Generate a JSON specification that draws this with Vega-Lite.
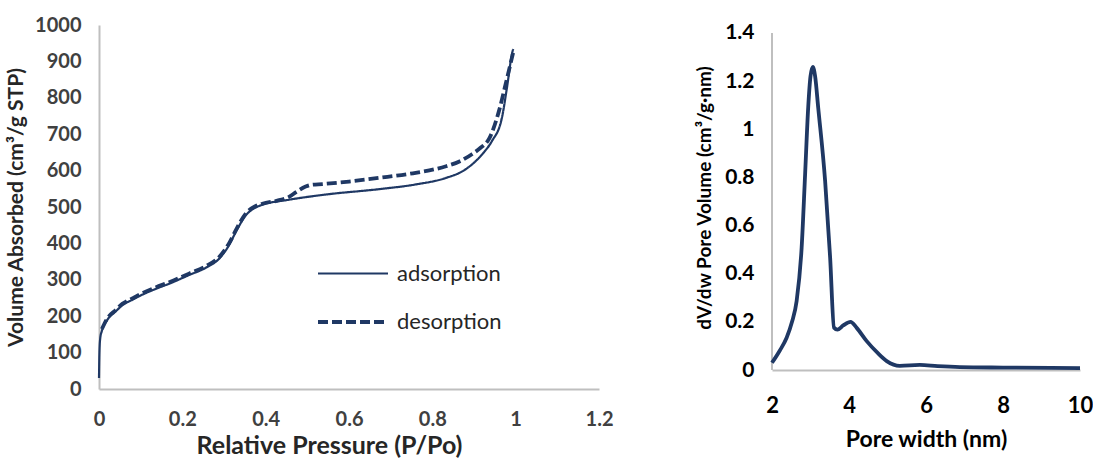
{
  "$schema": "https://vega.github.io/schema/vega-lite/v6.json",
  "background": "white",
  "padding": {"left": 5, "top": 15, "right": 0, "bottom": 0},
  "spacing": 82,
  "config": {
    "font": "Lato",
    "view": {"stroke": null},
    "axis": {
      "grid": false, "ticks": false, "domainColor": "#bfbfbf", "domainWidth": 2, "domain": true,
      "labelFont": "Lato", "labelFontWeight": "bold", "labelColor": "#404040", "labelFontSize": 20,
      "labelFlush": false, "labelOverlap": false,
      "titleFont": "Lato", "titleFontWeight": "bold", "titleColor": "#262626"
    }
  },
  "datasets": {
    "iso": [
      {"p": 0.0, "v": 30, "s": "adsorption"},
      {"p": 0.001, "v": 100, "s": "adsorption"},
      {"p": 0.003, "v": 140, "s": "adsorption"},
      {"p": 0.007, "v": 160, "s": "adsorption"},
      {"p": 0.02, "v": 190, "s": "adsorption"},
      {"p": 0.04, "v": 213, "s": "adsorption"},
      {"p": 0.056, "v": 230, "s": "adsorption"},
      {"p": 0.08, "v": 245, "s": "adsorption"},
      {"p": 0.1, "v": 257, "s": "adsorption"},
      {"p": 0.136, "v": 275, "s": "adsorption"},
      {"p": 0.17, "v": 290, "s": "adsorption"},
      {"p": 0.216, "v": 313, "s": "adsorption"},
      {"p": 0.256, "v": 333, "s": "adsorption"},
      {"p": 0.29, "v": 360, "s": "adsorption"},
      {"p": 0.312, "v": 395, "s": "adsorption"},
      {"p": 0.33, "v": 435, "s": "adsorption"},
      {"p": 0.353, "v": 478, "s": "adsorption"},
      {"p": 0.375, "v": 498, "s": "adsorption"},
      {"p": 0.392, "v": 506, "s": "adsorption"},
      {"p": 0.456, "v": 520, "s": "adsorption"},
      {"p": 0.55, "v": 535, "s": "adsorption"},
      {"p": 0.672, "v": 549, "s": "adsorption"},
      {"p": 0.76, "v": 562, "s": "adsorption"},
      {"p": 0.833, "v": 580, "s": "adsorption"},
      {"p": 0.875, "v": 600, "s": "adsorption"},
      {"p": 0.904, "v": 626, "s": "adsorption"},
      {"p": 0.925, "v": 652, "s": "adsorption"},
      {"p": 0.943, "v": 681, "s": "adsorption"},
      {"p": 0.967, "v": 745, "s": "adsorption"},
      {"p": 0.979, "v": 827, "s": "adsorption"},
      {"p": 0.991, "v": 920, "s": "adsorption"},
      {"p": 0.994, "v": 934, "s": "adsorption"},
      {"p": 0.996, "v": 934, "s": "desorption"},
      {"p": 0.976, "v": 838, "s": "desorption"},
      {"p": 0.96, "v": 764, "s": "desorption"},
      {"p": 0.936, "v": 687, "s": "desorption"},
      {"p": 0.915, "v": 662, "s": "desorption"},
      {"p": 0.895, "v": 645, "s": "desorption"},
      {"p": 0.865, "v": 625, "s": "desorption"},
      {"p": 0.833, "v": 612, "s": "desorption"},
      {"p": 0.76, "v": 594, "s": "desorption"},
      {"p": 0.672, "v": 580, "s": "desorption"},
      {"p": 0.6, "v": 570, "s": "desorption"},
      {"p": 0.536, "v": 563, "s": "desorption"},
      {"p": 0.51, "v": 561, "s": "desorption"},
      {"p": 0.496, "v": 556, "s": "desorption"},
      {"p": 0.472, "v": 540, "s": "desorption"},
      {"p": 0.456, "v": 528, "s": "desorption"},
      {"p": 0.43, "v": 518, "s": "desorption"},
      {"p": 0.392, "v": 509, "s": "desorption"},
      {"p": 0.375, "v": 502, "s": "desorption"},
      {"p": 0.353, "v": 483, "s": "desorption"},
      {"p": 0.33, "v": 440, "s": "desorption"},
      {"p": 0.312, "v": 400, "s": "desorption"},
      {"p": 0.29, "v": 365, "s": "desorption"},
      {"p": 0.256, "v": 337, "s": "desorption"},
      {"p": 0.216, "v": 317, "s": "desorption"},
      {"p": 0.17, "v": 294, "s": "desorption"},
      {"p": 0.136, "v": 279, "s": "desorption"},
      {"p": 0.1, "v": 261, "s": "desorption"},
      {"p": 0.08, "v": 249, "s": "desorption"},
      {"p": 0.056, "v": 234, "s": "desorption"},
      {"p": 0.04, "v": 217, "s": "desorption"},
      {"p": 0.02, "v": 194, "s": "desorption"},
      {"p": 0.007, "v": 165, "s": "desorption"}
    ],
    "psd": [
      {"w": 2.0, "v": 0.03},
      {"w": 2.2, "v": 0.08},
      {"w": 2.38, "v": 0.134},
      {"w": 2.52, "v": 0.2},
      {"w": 2.64, "v": 0.287},
      {"w": 2.77, "v": 0.508},
      {"w": 2.86, "v": 0.813},
      {"w": 2.94, "v": 1.09},
      {"w": 3.0, "v": 1.22},
      {"w": 3.06, "v": 1.259},
      {"w": 3.12, "v": 1.22},
      {"w": 3.2, "v": 1.09},
      {"w": 3.38, "v": 0.785},
      {"w": 3.51, "v": 0.467},
      {"w": 3.61, "v": 0.176},
      {"w": 3.7, "v": 0.168},
      {"w": 3.85, "v": 0.185},
      {"w": 4.04, "v": 0.2},
      {"w": 4.2, "v": 0.175},
      {"w": 4.46, "v": 0.12},
      {"w": 4.75, "v": 0.07},
      {"w": 4.98, "v": 0.037},
      {"w": 5.32, "v": 0.017},
      {"w": 5.84, "v": 0.021},
      {"w": 6.3, "v": 0.016},
      {"w": 6.88, "v": 0.012},
      {"w": 8.0, "v": 0.01},
      {"w": 10.0, "v": 0.008}
    ]
  },
  "hconcat": [
    {
      "width": 500,
      "height": 364,
      "data": {"name": "iso"},
      "mark": {"type": "line", "color": "#1f3864", "interpolate": "monotone"},
      "encoding": {
        "x": {"field": "p", "type": "quantitative", "scale": {"domain": [0, 1.2]},
          "axis": {"values": [0, 0.2, 0.4, 0.6, 0.8, 1, 1.2], "format": "~g", "title": "Relative Pressure (P/Po)", "titleFontSize": 25, "titleX": 230, "titleAlign": "center", "labelPadding": 20, "titlePadding": 4}},
        "y": {"field": "v", "type": "quantitative", "scale": {"domain": [0, 1000]},
          "axis": {"values": [0, 100, 200, 300, 400, 500, 600, 700, 800, 900, 1000], "format": "d", "title": "Volume Absorbed (cm³/g STP)", "titleFontSize": 21, "labelPadding": 18, "titlePadding": 8}},
        "order": {"field": "p", "type": "quantitative"},
        "strokeDash": {"field": "s", "type": "nominal",
          "scale": {"domain": ["adsorption", "desorption"], "range": [[1, 0], [10, 4]]},
          "legend": {"title": null, "orient": "none", "legendX": 217, "legendY": 212, "symbolType": "stroke", "symbolSize": 4900, "symbolStrokeColor": "#1f3864", "labelFontSize": 22, "labelColor": "#262626", "labelFont": "Lato", "labelOffset": 7, "rowPadding": -22}},
        "strokeWidth": {"field": "s", "type": "nominal",
          "scale": {"domain": ["adsorption", "desorption"], "range": [2.2, 3.8]}, "legend": null}
      }
    },
    {
      "width": 308,
      "height": 345,
      "data": {"name": "psd"},
      "layer": [
        {
          "mark": {"type": "rule", "color": "#bfbfbf", "strokeWidth": 2},
          "encoding": {
            "x": {"datum": 2, "type": "quantitative", "scale": {"domain": [2, 10], "zero": false}},
            "y": {"datum": 0, "type": "quantitative", "scale": {"domain": [0, 1.4332], "nice": false}},
            "y2": {"datum": 1.4}
          }
        },
        {
          "mark": {"type": "line", "color": "#1f3864", "strokeWidth": 3.8, "interpolate": "monotone"},
          "encoding": {
            "x": {"field": "w", "type": "quantitative", "scale": {"domain": [2, 10], "zero": false},
              "axis": {"values": [2, 4, 6, 8, 10], "title": "Pore width (nm)", "titleFontSize": 23, "labelColor": "#000000", "titleColor": "#000000", "labelFontSize": 22, "labelPadding": 25, "titlePadding": 12}},
            "y": {"field": "v", "type": "quantitative", "scale": {"domain": [0, 1.4332], "nice": false},
              "axis": {"values": [0, 0.2, 0.4, 0.6, 0.8, 1, 1.2, 1.4], "format": "~g", "domain": false, "title": "dV/dw Pore Volume (cm³/g·nm)", "titleFontSize": 19, "labelColor": "#000000", "titleColor": "#000000", "labelFontSize": 21, "labelPadding": 18, "titlePadding": 10}}
          }
        }
      ]
    }
  ]
}
